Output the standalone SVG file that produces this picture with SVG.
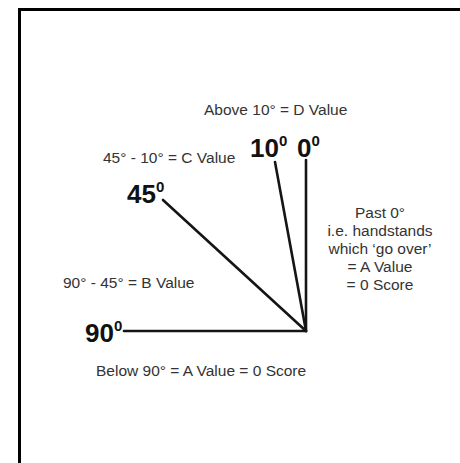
<svg xmlns="http://www.w3.org/2000/svg" width="460" height="463" viewBox="0 0 460 463">
<style>
.s{font-family:"Liberation Sans",Arial,sans-serif;font-size:15.5px;fill:#333}
.b{font-family:"Liberation Sans",Arial,sans-serif;font-size:26px;font-weight:bold;fill:#111}
.sup{font-size:15px}
.ln{stroke:#151515;stroke-width:2.6;fill:none;stroke-linecap:round}
</style>
<rect width="460" height="463" fill="#fff"/>
<path d="M19.5,463 V9.5 H460" fill="none" stroke="#000" stroke-width="3"/>
<g id="connectors">
<line class="ln" x1="124" y1="331" x2="306" y2="331"/>
<line class="ln" x1="306" y1="331" x2="306" y2="160"/>
<line class="ln" x1="306" y1="331" x2="275" y2="162"/>
<line class="ln" x1="306" y1="331" x2="163" y2="200"/>
</g>
<g id="label-d"><text class="s" x="204" y="115">Above 10° = D Value</text></g>
<g id="node-10"><text class="b" x="250" y="157">10<tspan class="sup" dy="-11">0</tspan></text></g>
<g id="node-0"><text class="b" x="297" y="157">0<tspan class="sup" dy="-11">0</tspan></text></g>
<g id="label-c"><text class="s" x="103" y="163">45° - 10° = C Value</text></g>
<g id="node-45"><text class="b" x="127" y="203">45<tspan class="sup" dy="-11">0</tspan></text></g>
<g id="label-past">
<text class="s" text-anchor="middle" x="380" y="218">Past 0°</text>
<text class="s" text-anchor="middle" x="380" y="236">i.e. handstands</text>
<text class="s" text-anchor="middle" x="380" y="254">which ‘go over’</text>
<text class="s" text-anchor="middle" x="380" y="272">= A Value</text>
<text class="s" text-anchor="middle" x="380" y="290">= 0 Score</text>
</g>
<g id="label-b"><text class="s" x="63" y="288">90° - 45° = B Value</text></g>
<g id="node-90"><text class="b" x="85" y="342">90<tspan class="sup" dy="-11">0</tspan></text></g>
<g id="label-a"><text class="s" x="96" y="376">Below 90° = A Value = 0 Score</text></g>
</svg>
